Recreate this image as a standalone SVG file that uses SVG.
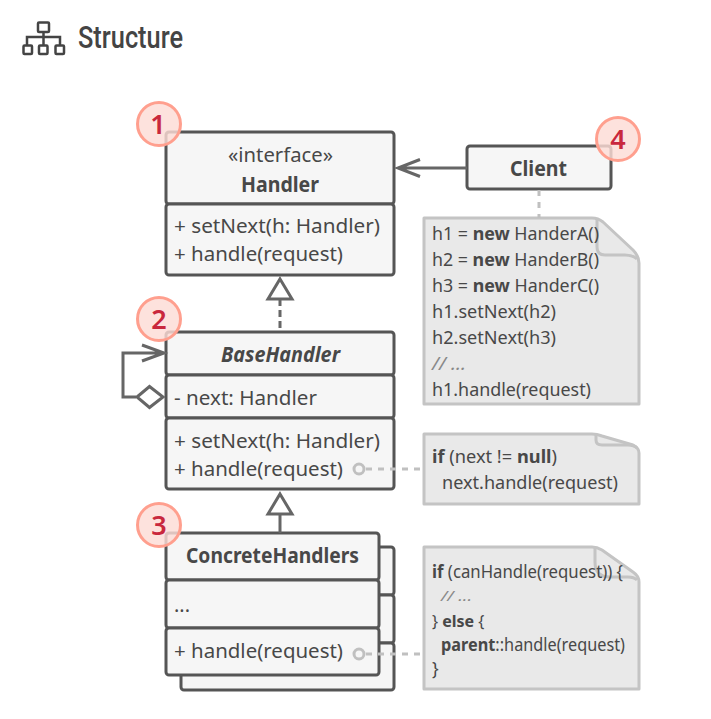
<svg xmlns="http://www.w3.org/2000/svg" width="711" height="719" viewBox="0 0 711 719">
<style>
text{font-family:"Noto Sans","Open Sans","Liberation Sans",sans-serif;fill:#484848;font-size:20.500px}
.b{font-weight:700}
.n{font-size:18.500px}
.m{font-size:17.500px}
.s{font-size:15px}
.e{font-size:16px}
.box{fill:#f6f6f6;stroke:#555;stroke-width:3}
.note{fill:#e9e9e9;stroke:#c4c4c4;stroke-width:3;stroke-linejoin:round}
.fold{fill:none;stroke:#c4c4c4;stroke-width:3}
.con{fill:none;stroke:#666;stroke-width:3}
.dash{fill:none;stroke:#c0c0c0;stroke-width:3;stroke-dasharray:6 6}
.badge{fill:#fcdcd5;fill-opacity:.82;stroke:#ff9f8e;stroke-width:3}
.num{font-size:27px;font-weight:600;fill:#c9283d;text-anchor:middle}
</style>
<g id="title">
<g fill="none" stroke="#444" stroke-width="2.500">
<rect x="38" y="22.500" width="11" height="9.500" rx="1"/>
<path d="M43.500 32V45M27 45V37H60V45"/>
<rect x="23.500" y="45.500" width="8.500" height="8.500" rx="1"/>
<rect x="39" y="45.500" width="8.500" height="8.500" rx="1"/>
<rect x="55.500" y="45.500" width="8.500" height="8.500" rx="1"/>
</g>
<text x="78" y="48" textLength="105" lengthAdjust="spacingAndGlyphs" style="font-family:Roboto,'Liberation Sans',sans-serif;font-weight:500;font-size:31px;fill:#444">Structure</text>
</g>
<g id="handler">
<rect class="box" x="166" y="132" width="228" height="72" rx="3"/>
<rect class="box" x="166" y="204" width="228" height="71" rx="3"/>
<text x="228" y="162" textLength="105" lengthAdjust="spacingAndGlyphs">«interface»</text>
<text class="b" x="241" y="192" textLength="78" lengthAdjust="spacingAndGlyphs">Handler</text>
<text x="174" y="233" textLength="206" lengthAdjust="spacingAndGlyphs">+ setNext(h: Handler)</text>
<text x="174" y="261" textLength="169" lengthAdjust="spacingAndGlyphs">+ handle(request)</text>
</g>
<g id="base-handler">
<rect class="box" x="166" y="332" width="228" height="43" rx="3"/>
<rect class="box" x="166" y="375" width="228" height="43" rx="3"/>
<rect class="box" x="166" y="418" width="228" height="71" rx="3"/>
<text class="b" x="221" y="362" font-style="italic" textLength="119" lengthAdjust="spacingAndGlyphs">BaseHandler</text>
<text x="174" y="405" textLength="143" lengthAdjust="spacingAndGlyphs">- next: Handler</text>
<text x="174" y="448" textLength="206" lengthAdjust="spacingAndGlyphs">+ setNext(h: Handler)</text>
<text x="174" y="476" textLength="169" lengthAdjust="spacingAndGlyphs">+ handle(request)</text>
</g>
<g id="concrete-handlers">
<rect class="box" x="181" y="547" width="213" height="48" rx="3"/>
<rect class="box" x="181" y="595" width="213" height="48" rx="3"/>
<rect class="box" x="181" y="643" width="213" height="47" rx="3"/>
<rect class="box" x="166" y="533" width="213" height="47" rx="3"/>
<rect class="box" x="166" y="580" width="213" height="48" rx="3"/>
<rect class="box" x="166" y="628" width="213" height="47" rx="3"/>
<text class="b" x="186" y="563" textLength="173" lengthAdjust="spacingAndGlyphs">ConcreteHandlers</text>
<text x="174" y="612" textLength="16" lengthAdjust="spacingAndGlyphs">...</text>
<text x="174" y="658" textLength="169" lengthAdjust="spacingAndGlyphs">+ handle(request)</text>
</g>
<g id="client">
<rect class="box" x="467" y="146" width="144" height="43" rx="3"/>
<text class="b" x="510" y="176" textLength="57" lengthAdjust="spacingAndGlyphs">Client</text>
</g>
<g id="note-client">
<path class="note" d="M424 218H592Q598 218 603 222L633 250Q639 256 639 263V404H424Z"/>
<path class="fold" d="M597 219V247Q597 255 605 255H625Q633 255 637 259"/>
<text class="n" x="432" y="240" textLength="167" lengthAdjust="spacingAndGlyphs">h1 = <tspan class="b">new</tspan> HanderA()</text>
<text class="n" x="432" y="266" textLength="167" lengthAdjust="spacingAndGlyphs">h2 = <tspan class="b">new</tspan> HanderB()</text>
<text class="n" x="432" y="292" textLength="167" lengthAdjust="spacingAndGlyphs">h3 = <tspan class="b">new</tspan> HanderC()</text>
<text class="n" x="432" y="318" textLength="124" lengthAdjust="spacingAndGlyphs">h1.setNext(h2)</text>
<text class="n" x="432" y="344" textLength="124" lengthAdjust="spacingAndGlyphs">h2.setNext(h3)</text>
<text class="n" x="432" y="370" font-style="italic" style="fill:#888" textLength="34" lengthAdjust="spacingAndGlyphs">// ...</text>
<text class="n" x="432" y="396" textLength="159" lengthAdjust="spacingAndGlyphs">h1.handle(request)</text>
</g>
<g id="note-base">
<path class="note" d="M424 434H592Q597 434 602 436L633 445Q639 448 639 453V504H424Z"/>
<path class="fold" d="M596 435V440Q596 445 602 445H628Q634 445 637 448"/>
<text class="n" x="432" y="463" textLength="125" lengthAdjust="spacingAndGlyphs"><tspan class="b">if</tspan> (next != <tspan class="b">null</tspan>)</text>
<text class="n" x="442" y="489" textLength="176" lengthAdjust="spacingAndGlyphs">next.handle(request)</text>
</g>
<g id="note-concrete">
<path class="note" d="M424 547H592Q597 547 602 550L633 572Q639 576 639 582V689H424Z"/>
<path class="fold" d="M595 548V562Q595 577 610 577H628Q634 577 637 580"/>
<text class="m" x="432" y="578" textLength="191" lengthAdjust="spacingAndGlyphs"><tspan class="b">if</tspan> (canHandle(request)) {</text>
<text class="s" x="441" y="601" font-style="italic" style="fill:#888" textLength="31" lengthAdjust="spacingAndGlyphs">// ...</text>
<text class="e" x="432" y="627">} <tspan class="b">else</tspan> {</text>
<text class="m" x="441" y="651" textLength="184" lengthAdjust="spacingAndGlyphs"><tspan class="b">parent</tspan>::handle(request)</text>
<text class="m" x="432" y="675">}</text>
</g>
<g id="connectors">
<path class="con" d="M467 168H398M420 159.500L398 168L420 176.500"/>
<path class="con" d="M280 299V332" stroke-dasharray="7 4"/>
<path class="con" d="M280 279L292 299H268Z"/>
<path class="con" d="M280 514V533"/>
<path class="con" d="M280 494L292 514H268Z"/>
<path class="con" d="M136 397H123V353H163M142 345L164 353L142 361"/>
<path class="con" d="M137 397L149.500 386.500L163 397L149.500 407.500Z" style="fill:#fff"/>
<path class="dash" d="M539 190V218"/>
<path class="dash" d="M366 469H423"/>
<path class="dash" d="M366 654H423"/>
<circle cx="359" cy="469" r="5" fill="none" stroke="#c0c0c0" stroke-width="3"/>
<circle cx="359" cy="654" r="5" fill="none" stroke="#c0c0c0" stroke-width="3"/>
</g>
<g id="badge-1"><circle class="badge" cx="159" cy="124" r="21.500"/><text class="num" x="158" y="134">1</text></g>
<g id="badge-2"><circle class="badge" cx="159" cy="319" r="21.500"/><text class="num" x="159" y="329">2</text></g>
<g id="badge-3"><circle class="badge" cx="159" cy="525" r="21.500"/><text class="num" x="159" y="535">3</text></g>
<g id="badge-4"><circle class="badge" cx="618" cy="139" r="21.500"/><text class="num" x="618" y="149">4</text></g>
</svg>
